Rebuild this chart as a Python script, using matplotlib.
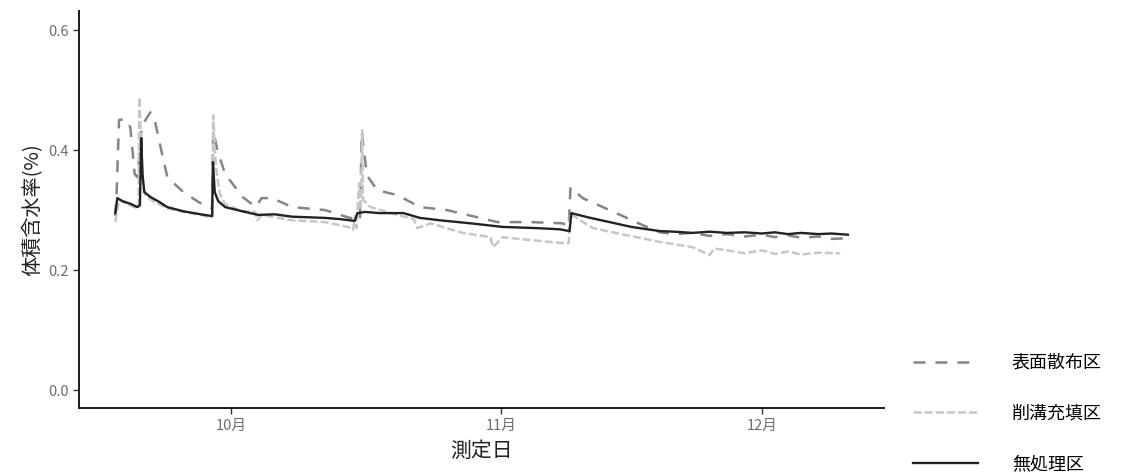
import matplotlib
matplotlib.use("Agg")
import matplotlib.pyplot as plt
import matplotlib.dates as mdates
import numpy as np
import pandas as pd

plt.rcParams['font.family'] = ['Noto Sans CJK JP', 'DejaVu Sans']
plt.rcParams['lines.scale_dashes'] = False

# days elapsed from 1 October, and volumetric water content
base_day = pd.Timestamp("2019-10-01")

ctrl_day = [-13.33, -13.1, -12.5, -11.5, -10.8, -10.5, -10.35, -10.2, -10.0, -9.3,
            -8.2, -7.35, -5.5, -3.5, -2.2, -2.1, -1.9, -1.5, -0.7, 1.3,
            3.1, 5.0, 7.0, 9.0, 10.8, 12.5, 14.2, 14.5, 15.4, 17.0,
            19.8, 21.7, 24.0, 27.5, 31.2, 35.1, 37.8, 38.9, 39.1, 41.0,
            43.5, 46.0, 49.3, 51.0, 53.0, 55.0, 57.0, 59.0, 61.0, 62.5,
            64.0, 65.5, 67.5, 69.0, 70.9]
ctrl_val = [0.295, 0.32, 0.315, 0.31, 0.305, 0.308, 0.42, 0.36, 0.33, 0.322,
            0.313, 0.305, 0.298, 0.293, 0.29, 0.38, 0.33, 0.315, 0.305, 0.298,
            0.292, 0.293, 0.289, 0.288, 0.287, 0.285, 0.282, 0.295, 0.297, 0.295,
            0.295, 0.287, 0.283, 0.278, 0.272, 0.27, 0.268, 0.265, 0.295, 0.288,
            0.28, 0.272, 0.265, 0.264, 0.262, 0.264, 0.262, 0.263, 0.261, 0.263,
            0.26, 0.262, 0.26, 0.261, 0.259]

surf_day = [-13.33, -13.2, -12.9, -12.3, -11.8, -11.6, -11.1, -10.8, -10.5, -10.3,
            -9.3, -8.8, -8.2, -7.35, -5.5, -3.6, -2.4, -2.2, -2.07, -1.6,
            -0.7, 1.3, 2.8, 3.5, 4.7, 7.0, 10.8, 13.4, 14.8, 15.0,
            15.6, 16.8, 19.1, 21.7, 24.8, 28.6, 30.6, 34.4, 38.1, 38.8,
            39.0, 40.4, 43.5, 47.3, 49.3, 51.0, 53.0, 55.0, 57.0, 59.0,
            61.0, 62.5, 64.0, 65.5, 67.5, 69.0, 70.9]
surf_val = [0.29, 0.32, 0.45, 0.452, 0.445, 0.437, 0.36, 0.355, 0.40, 0.44,
            0.463, 0.45, 0.41, 0.355, 0.33, 0.312, 0.305, 0.303, 0.433, 0.40,
            0.36, 0.322, 0.305, 0.32, 0.32, 0.305, 0.30, 0.288, 0.283, 0.43,
            0.358, 0.333, 0.325, 0.305, 0.30, 0.287, 0.28, 0.28, 0.278, 0.272,
            0.338, 0.32, 0.30, 0.275, 0.263, 0.26, 0.262, 0.257, 0.26, 0.256,
            0.259, 0.255, 0.258, 0.254, 0.256, 0.252, 0.253]

trench_day = [-13.33, -13.1, -12.9, -12.0, -10.8, -10.65, -10.57, -10.4, -10.2, -9.9,
              -9.0, -7.35, -5.5, -3.5, -2.4, -2.15, -2.07, -1.8, -1.6, -1.26,
              -0.7, 1.3, 2.76, 2.99, 3.5, 5.0, 7.0, 10.8, 13.4, 14.0,
              14.24, 14.4, 14.7, 14.9, 15.05, 15.16, 16.0, 19.1, 21.0, 21.4,
              22.9, 26.6, 29.8, 30.1, 31.2, 34.4, 38.1, 38.8, 38.95, 40.1,
              41.6, 45.5, 49.3, 53.1, 55.0, 55.5, 57.0, 59.0, 61.0, 62.5,
              64.0, 65.5, 67.5, 70.0]
trench_val = [0.28, 0.30, 0.317, 0.31, 0.303, 0.31, 0.488, 0.43, 0.35, 0.325,
              0.315, 0.303, 0.297, 0.292, 0.288, 0.29, 0.458, 0.38, 0.353, 0.325,
              0.31, 0.298, 0.297, 0.283, 0.292, 0.288, 0.283, 0.28, 0.272, 0.267,
              0.29, 0.27, 0.345, 0.30, 0.433, 0.317, 0.305, 0.292, 0.285, 0.27,
              0.278, 0.262, 0.255, 0.238, 0.255, 0.25, 0.245, 0.245, 0.295, 0.283,
              0.27, 0.258, 0.247, 0.238, 0.225, 0.236, 0.233, 0.228, 0.233, 0.227,
              0.231, 0.226, 0.229, 0.228]

labels = ['表面散布区', '削溝充填区', '無処理区']


def to_dates(days):
    return base_day + pd.to_timedelta(np.array(days), unit="D")


fig = plt.figure(figsize=(11.21, 4.74), dpi=100)
ax = fig.add_axes([0.0705, 0.139, 0.7185, 0.838])

l1, = ax.plot(to_dates(surf_day), surf_val, color='#858585', lw=1.8,
              linestyle=(0, (8.6, 7.2)))
l2, = ax.plot(to_dates(trench_day), trench_val, color='#c6c6c6', lw=1.8,
              linestyle=(0, (5.8, 2.2)))
l3, = ax.plot(to_dates(ctrl_day), ctrl_val, color='#222222', lw=1.7)

ax.set_xlim(to_dates([-17.5])[0], to_dates([75.1])[0])
ax.set_ylim(-0.03, 0.632)
ax.set_yticks([0.0, 0.2, 0.4, 0.6])
ax.yaxis.set_major_formatter(plt.FuncFormatter(lambda v, p: f"{v:.1f}"))
ax.xaxis.set_major_locator(mdates.MonthLocator())
ax.xaxis.set_major_formatter(plt.FuncFormatter(
    lambda v, p: f"{mdates.num2date(v).month}月"))

for s in ['top', 'right']:
    ax.spines[s].set_visible(False)
for s in ['left', 'bottom']:
    ax.spines[s].set_linewidth(1.4)
    ax.spines[s].set_color('#1a1a1a')
ax.tick_params(axis='both', length=4, width=1, color='#333333',
               labelcolor='#6e6e6e', labelsize=10.5)

ax.set_ylabel('体積含水率(%)', fontsize=14.5, color='#222222', labelpad=3)
ax.set_xlabel('測定日', fontsize=15, color='#222222', labelpad=5)

fig.legend([l1, l2, l3], labels, loc='center left',
           bbox_to_anchor=(0.806, 0.128), frameon=False, fontsize=13,
           handlelength=3.6, handletextpad=1.9, labelspacing=1.8,
           borderpad=0)

fig.savefig('out.png', dpi=100)
